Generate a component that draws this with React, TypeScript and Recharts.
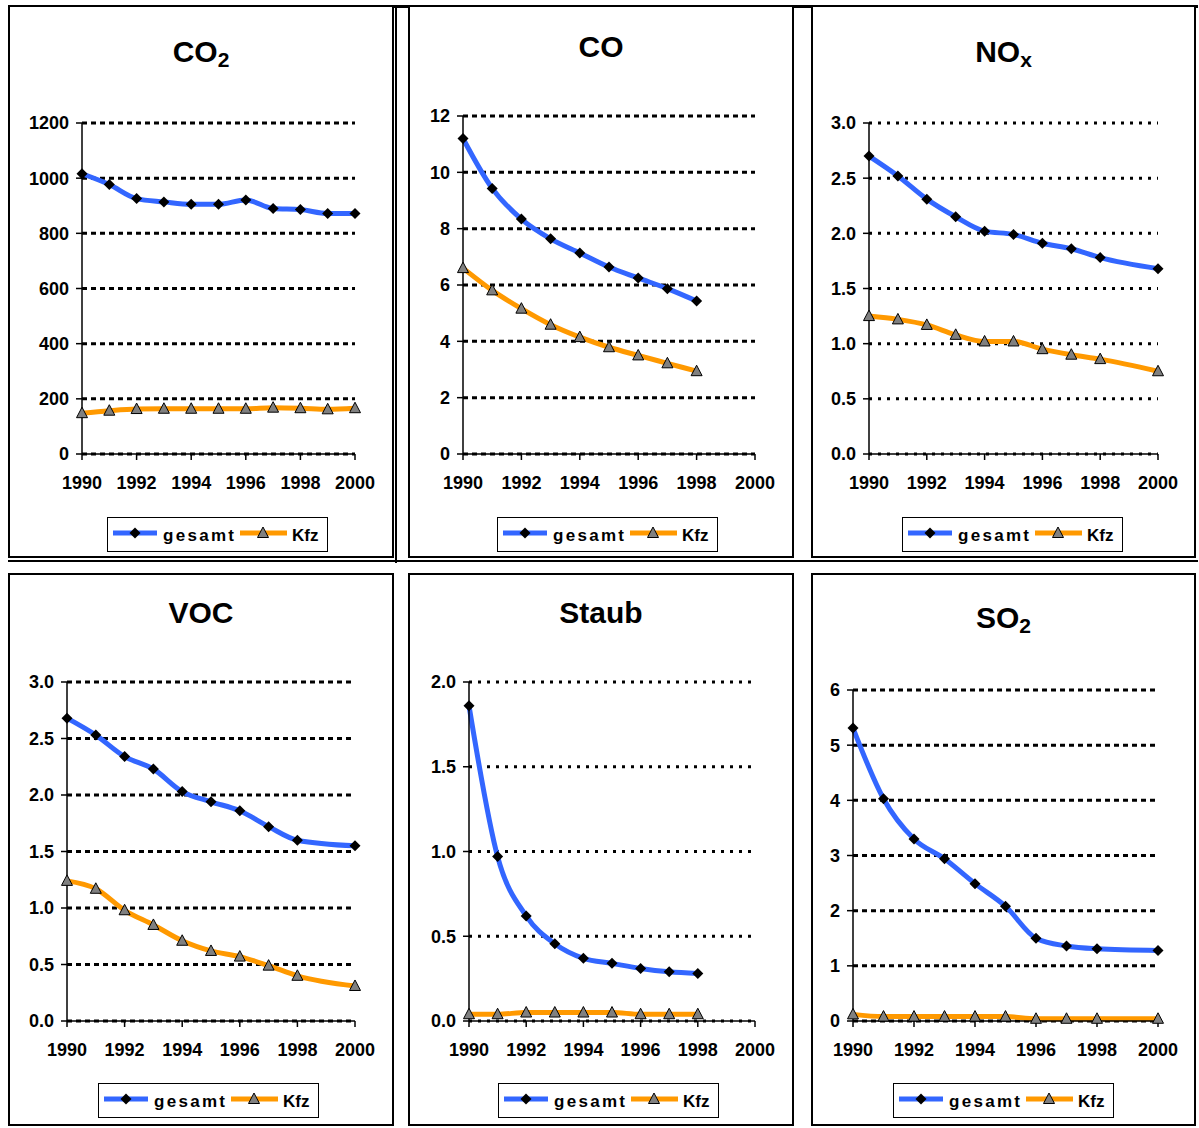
import React from 'react';
import { LineChart, Line, XAxis, YAxis, CartesianGrid } from 'recharts';

const FONT = '"Liberation Sans", Arial, Helvetica, sans-serif';
const BLUE = '#3366FF';
const ORANGE = '#FF9900';

const years = [1990, 1991, 1992, 1993, 1994, 1995, 1996, 1997, 1998, 1999, 2000];
const yearTicks = [1990, 1992, 1994, 1996, 1998, 2000];
const legendLabels = ['gesamt', 'Kfz'];

const co2Gesamt = [1016, 977, 926, 914, 905, 905, 921, 890, 886, 872, 872];
const co2Kfz = [148, 157, 163, 164, 164, 164, 164, 168, 166, 162, 166];
const co2Ticks = [0, 200, 400, 600, 800, 1000, 1200];

const coGesamt = [11.2, 9.43, 8.34, 7.64, 7.14, 6.64, 6.25, 5.87, 5.43, null, null];
const coKfz = [6.6, 5.81, 5.16, 4.59, 4.15, 3.79, 3.5, 3.22, 2.94, null, null];
const coTicks = [0, 2, 4, 6, 8, 10, 12];

const noxGesamt = [2.7, 2.52, 2.31, 2.15, 2.02, 1.99, 1.91, 1.86, 1.78, null, 1.68];
const noxKfz = [1.25, 1.22, 1.17, 1.08, 1.02, 1.02, 0.95, 0.9, 0.86, null, 0.75];
const noxTicks = [0, 0.5, 1, 1.5, 2, 2.5, 3];

const vocGesamt = [2.68, 2.53, 2.34, 2.23, 2.03, 1.94, 1.86, 1.72, 1.6, null, 1.55];
const vocKfz = [1.24, 1.17, 0.98, 0.85, 0.71, 0.62, 0.57, 0.49, 0.4, null, 0.31];
const vocTicks = [0, 0.5, 1, 1.5, 2, 2.5, 3];

const staubGesamt = [1.86, 0.97, 0.62, 0.456, 0.37, 0.34, 0.31, 0.29, 0.28, null, null];
const staubKfz = [0.04, 0.04, 0.05, 0.05, 0.05, 0.05, 0.04, 0.04, 0.04, null, null];
const staubTicks = [0, 0.5, 1, 1.5, 2];

const so2Gesamt = [5.31, 4.03, 3.3, 2.94, 2.49, 2.08, 1.5, 1.36, 1.31, null, 1.28];
const so2Kfz = [0.12, 0.08, 0.08, 0.08, 0.08, 0.08, 0.04, 0.04, 0.04, null, 0.04];
const so2Ticks = [0, 1, 2, 3, 4, 5, 6];

const buildData = (g: (number | null)[], k: (number | null)[]) =>
  years.map((year, i) => ({ year, gesamt: g[i], kfz: k[i] }));

const Diamond = (props: any) => {
  const { cx, cy, index, value } = props;
  if (cx == null || cy == null || value == null || isNaN(cy)) return <g key={`dm-${index}`} />;
  const s = 5.5;
  return (
    <path
      key={`dm-${index}`}
      d={`M${cx},${cy - s} L${cx + s},${cy} L${cx},${cy + s} L${cx - s},${cy} Z`}
      fill="#000"
    />
  );
};

const Triangle = (props: any) => {
  const { cx, cy, index, value } = props;
  if (cx == null || cy == null || value == null || isNaN(cy)) return <g key={`tr-${index}`} />;
  return (
    <path
      key={`tr-${index}`}
      d={`M${cx},${cy - 6} L${cx + 5.5},${cy + 4.5} L${cx - 5.5},${cy + 4.5} Z`}
      fill="#808080"
      stroke="#000"
      strokeWidth={1}
    />
  );
};

type PanelCfg = {
  title: string;
  sub?: string;
  titleBaseline: number;
  L: number;
  T: number;
  W: number;
  H: number;
  axisX: number;
  xEnd: number;
  yTop: number;
  yBottom: number;
  gesamt: (number | null)[];
  kfz: (number | null)[];
  ticks: number[];
  fmt: (v: number) => string;
  legendX: number;
  legendY: number;
  dash: string;
};

const Legend2 = ({ x, y }: { x: number; y: number }) => (
  <div
    style={{
      position: 'absolute',
      left: x,
      top: y,
      width: 221,
      height: 35,
      border: '1.5px solid #000',
      boxSizing: 'border-box',
      background: '#fff',
    }}
  >
    <svg width={218} height={32} style={{ position: 'absolute', left: 0, top: 0 }}>
      <line x1={5} x2={49} y1={15} y2={15} stroke={BLUE} strokeWidth={5} />
      <Diamond cx={27} cy={15} index={0} value={1} />
      <text x={55} y={23} fontFamily={FONT} fontWeight="bold" fontSize={17} letterSpacing={2.3} fill="#000">
        {legendLabels[0]}
      </text>
      <line x1={132} x2={179} y1={15} y2={15} stroke={ORANGE} strokeWidth={5} />
      <Triangle cx={155} cy={15} index={0} value={1} />
      <text x={184} y={23} fontFamily={FONT} fontWeight="bold" fontSize={17} fill="#000">
        {legendLabels[1]}
      </text>
    </svg>
  </div>
);

const Panel = ({ c }: { c: PanelCfg }) => {
  const data = buildData(c.gesamt, c.kfz);
  const xAxisHeight = 40;
  const tickStyle = { fill: '#000', fontSize: 18, fontWeight: 'bold', fontFamily: FONT };
  const maxY = c.ticks[c.ticks.length - 1];
  return (
    <>
      <div
        style={{
          position: 'absolute',
          left: c.L,
          top: c.T,
          width: c.W,
          height: c.H,
          border: '2.5px solid #000',
          boxSizing: 'border-box',
          background: '#fff',
        }}
      />
      <svg
        width={c.W}
        height={90}
        style={{ position: 'absolute', left: c.L, top: c.T }}
      >
        <text
          x={c.W / 2}
          y={c.titleBaseline - c.T}
          textAnchor="middle"
          fontFamily={FONT}
          fontWeight="bold"
          fontSize={30}
          fill="#000"
        >
          {c.title}
          {c.sub ? (
            <tspan fontSize={21} dy={5}>
              {c.sub}
            </tspan>
          ) : null}
        </text>
      </svg>
      <div style={{ position: 'absolute', left: c.L, top: c.T }}>
        <LineChart
          width={c.W}
          height={c.H}
          data={data}
          margin={{
            top: c.yTop - c.T,
            right: c.L + c.W - c.xEnd,
            left: 0,
            bottom: c.T + c.H - c.yBottom - xAxisHeight,
          }}
        >
          <CartesianGrid
            vertical={false}
            horizontal={{ stroke: '#000', strokeWidth: 3, strokeDasharray: c.dash }}
            stroke="#000"
            strokeWidth={3}
            strokeDasharray={c.dash}
          />
          <XAxis
            dataKey="year"
            type="number"
            domain={[1990, 2000]}
            ticks={yearTicks}
            interval={0}
            height={xAxisHeight}
            tickSize={6}
            tickMargin={16}
            tick={tickStyle}
            axisLine={{ stroke: '#000', strokeWidth: 1.5 }}
            tickLine={{ stroke: '#000', strokeWidth: 1.5 }}
          />
          <YAxis
            type="number"
            domain={[0, maxY]}
            ticks={c.ticks}
            interval={0}
            width={c.axisX - c.L}
            tickSize={6}
            tickMargin={7}
            tick={tickStyle}
            tickFormatter={c.fmt}
            axisLine={{ stroke: '#000', strokeWidth: 1.5 }}
            tickLine={{ stroke: '#000', strokeWidth: 1.5 }}
          />
          <Line
            type="monotone"
            dataKey="gesamt"
            stroke={BLUE}
            strokeWidth={5}
            dot={Diamond}
            activeDot={false}
            connectNulls
            isAnimationActive={false}
          />
          <Line
            type="monotone"
            dataKey="kfz"
            stroke={ORANGE}
            strokeWidth={5}
            dot={Triangle}
            activeDot={false}
            connectNulls
            isAnimationActive={false}
          />
        </LineChart>
      </div>
      <Legend2 x={c.legendX} y={c.legendY} />
    </>
  );
};

const intFmt = (v: number) => String(v);
const decFmt = (v: number) => v.toFixed(1);

const panels: PanelCfg[] = [
  {
    title: 'CO', sub: '2', titleBaseline: 62,
    L: 8, T: 5, W: 386, H: 553, axisX: 82, xEnd: 355, yTop: 123, yBottom: 454,
    gesamt: co2Gesamt, kfz: co2Kfz, ticks: co2Ticks, fmt: intFmt,
    legendX: 107, legendY: 517, dash: '5 4',
  },
  {
    title: 'CO', titleBaseline: 57,
    L: 408, T: 5, W: 386, H: 553, axisX: 463, xEnd: 755, yTop: 116, yBottom: 454,
    gesamt: coGesamt, kfz: coKfz, ticks: coTicks, fmt: intFmt,
    legendX: 497, legendY: 517, dash: '5 4',
  },
  {
    title: 'NO', sub: 'x', titleBaseline: 62,
    L: 811, T: 5, W: 385, H: 553, axisX: 869, xEnd: 1158, yTop: 123, yBottom: 454,
    gesamt: noxGesamt, kfz: noxKfz, ticks: noxTicks, fmt: decFmt,
    legendX: 902, legendY: 517, dash: '3 6',
  },
  {
    title: 'VOC', titleBaseline: 623,
    L: 8, T: 573, W: 386, H: 553, axisX: 67, xEnd: 355, yTop: 682, yBottom: 1021,
    gesamt: vocGesamt, kfz: vocKfz, ticks: vocTicks, fmt: decFmt,
    legendX: 98, legendY: 1083, dash: '5 4',
  },
  {
    title: 'Staub', titleBaseline: 623,
    L: 408, T: 573, W: 386, H: 553, axisX: 469, xEnd: 755, yTop: 682, yBottom: 1021,
    gesamt: staubGesamt, kfz: staubKfz, ticks: staubTicks, fmt: decFmt,
    legendX: 498, legendY: 1083, dash: '3 6',
  },
  {
    title: 'SO', sub: '2', titleBaseline: 628,
    L: 811, T: 573, W: 385, H: 553, axisX: 853, xEnd: 1158, yTop: 690, yBottom: 1021,
    gesamt: so2Gesamt, kfz: so2Kfz, ticks: so2Ticks, fmt: intFmt,
    legendX: 893, legendY: 1083, dash: '5 4',
  },
];

export default function App() {
  return (
    <div
      style={{
        position: 'absolute',
        left: 0,
        top: 0,
        width: 1199,
        height: 1128,
        background: '#fff',
        fontFamily: FONT,
        overflow: 'hidden',
      }}
    >
      <div style={{ position: 'absolute', left: 8, top: 5, width: 1190, height: 2.5, background: '#000' }} />
      <div style={{ position: 'absolute', left: 395, top: 5, width: 2, height: 558, background: '#000' }} />
      <div style={{ position: 'absolute', left: 8, top: 560, width: 1190, height: 1.5, background: '#000' }} />
      {panels.map((c, i) => (
        <Panel key={i} c={c} />
      ))}
    </div>
  );
}
